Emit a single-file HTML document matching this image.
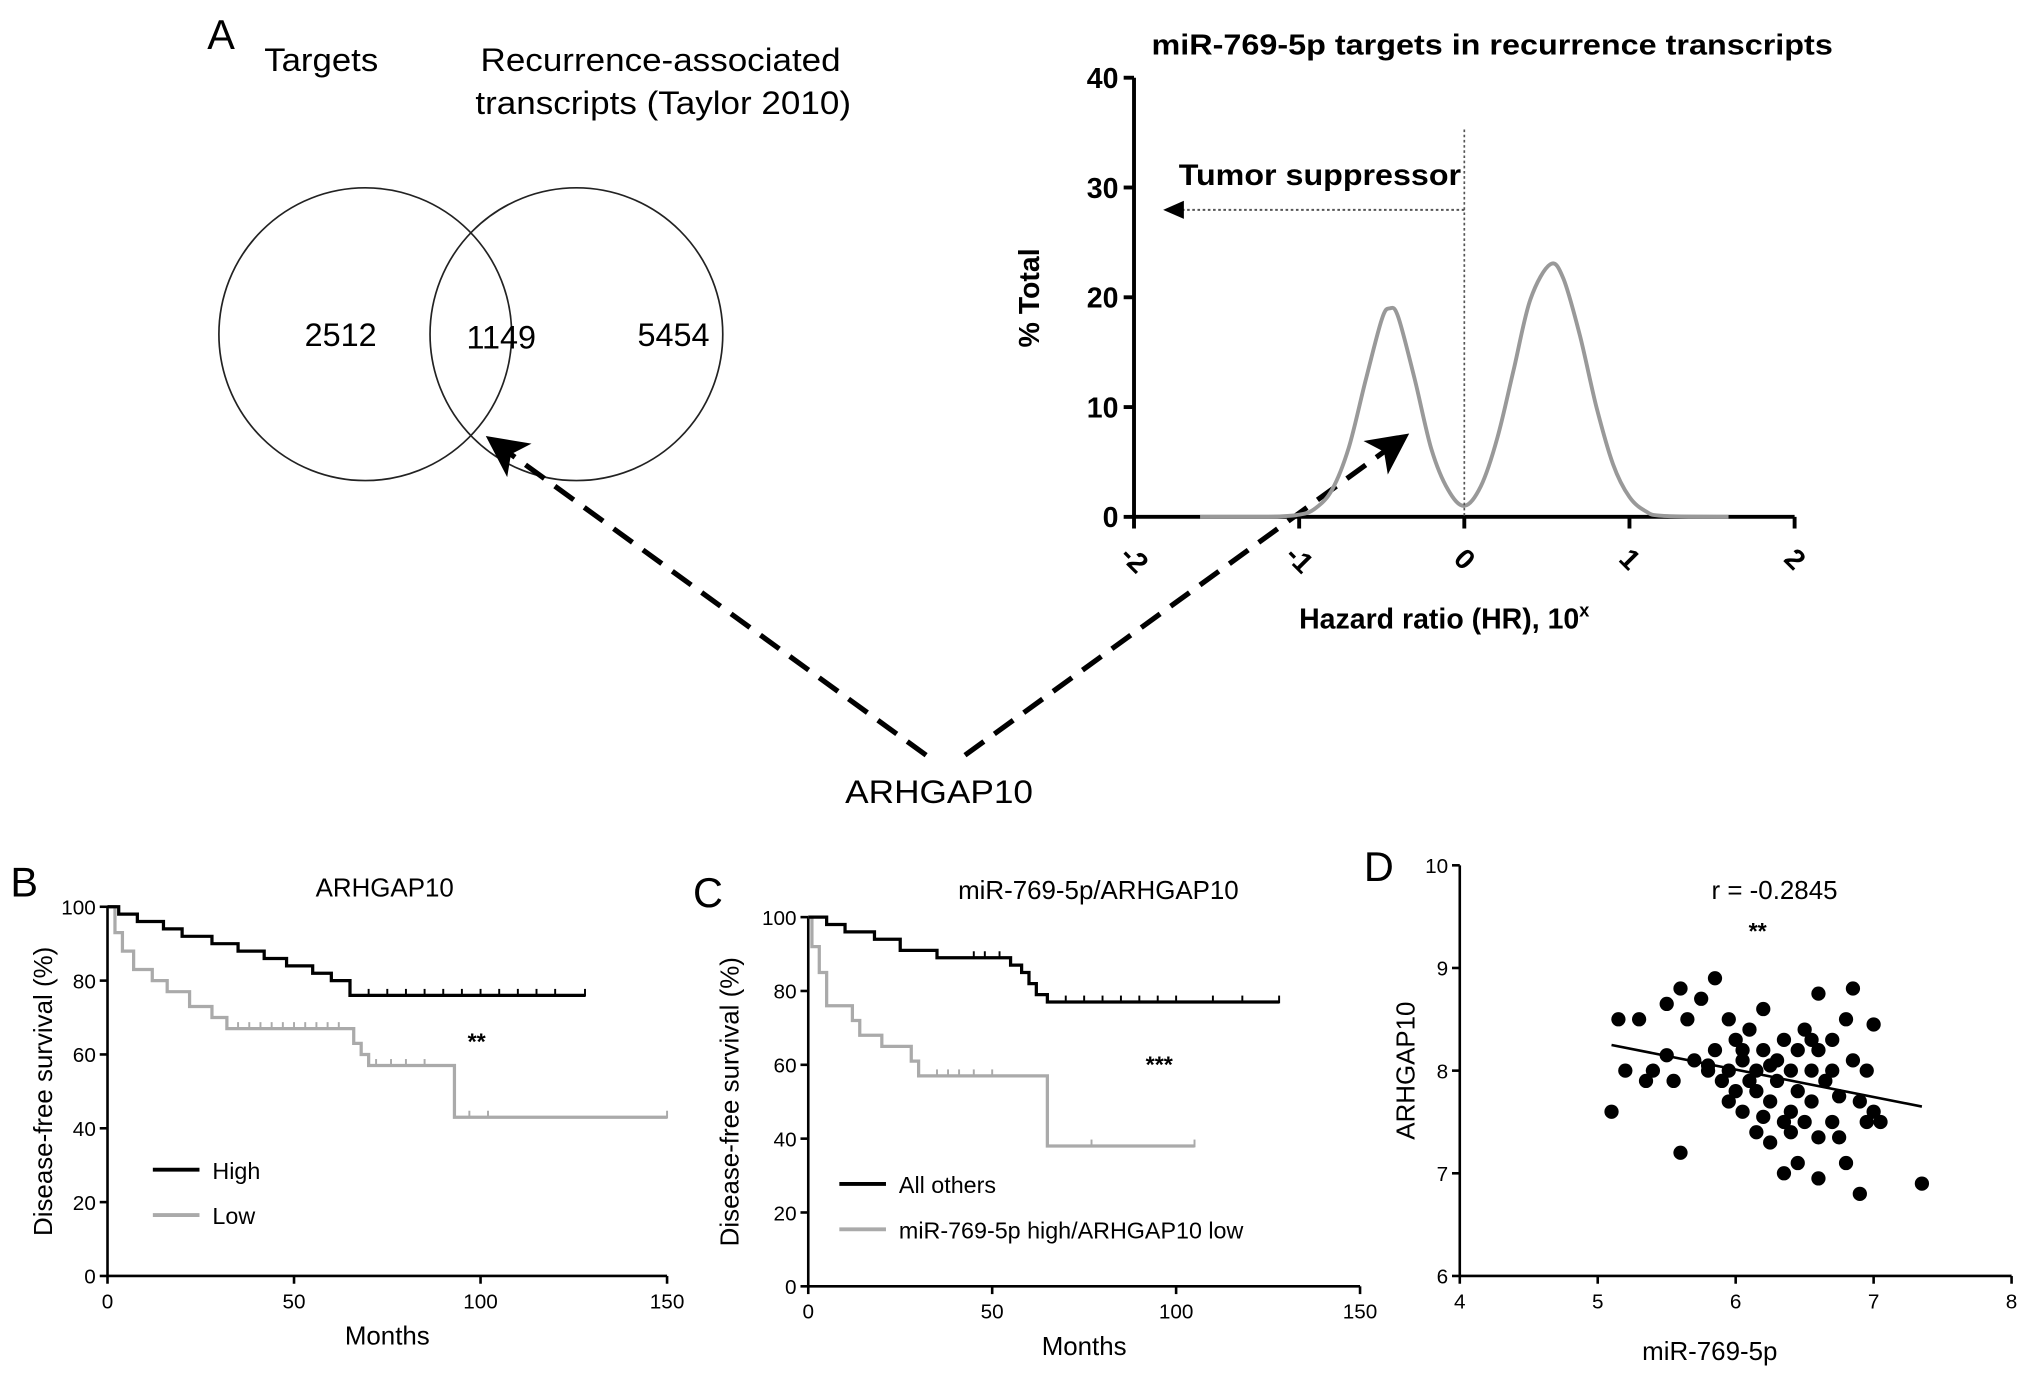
<!DOCTYPE html>
<html><head><meta charset="utf-8"><style>
html,body{margin:0;padding:0;background:#fff;}
svg{display:block;}
text{font-family:"Liberation Sans",Arial,sans-serif;}
</style></head><body>
<svg id="fig" width="2031" height="1377" viewBox="0 0 1568 1063" preserveAspectRatio="none" xmlns="http://www.w3.org/2000/svg">
<defs>
<marker id="ah" markerWidth="8" markerHeight="8" refX="4" refY="4" orient="auto" markerUnits="strokeWidth"><path d="M0,0 L8,4 L0,8 L2,4 z" fill="#000"/></marker>
</defs>
<text x="160" y="38" font-size="32">A</text>
<text x="248" y="55" font-size="25" text-anchor="middle" textLength="88" lengthAdjust="spacingAndGlyphs">Targets</text>
<text x="510" y="55" font-size="25" text-anchor="middle" textLength="278" lengthAdjust="spacingAndGlyphs">Recurrence-associated</text>
<text x="512" y="88" font-size="25" text-anchor="middle" textLength="290" lengthAdjust="spacingAndGlyphs">transcripts (Taylor 2010)</text>
<circle cx="282" cy="258" r="113" fill="none" stroke="#222" stroke-width="1.3"/>
<circle cx="445" cy="258" r="113" fill="none" stroke="#222" stroke-width="1.3"/>
<text x="263" y="267" font-size="25" text-anchor="middle">2512</text>
<text x="387" y="269" font-size="25" text-anchor="middle">1149</text>
<text x="520" y="267" font-size="25" text-anchor="middle">5454</text>
<line x1="715" y1="583" x2="388" y2="346" stroke="#000" stroke-width="4" stroke-dasharray="18,10" marker-end="url(#ah)"/>
<line x1="745" y1="583" x2="1075" y2="344" stroke="#000" stroke-width="4" stroke-dasharray="18,10" marker-end="url(#ah)"/>
<text x="725" y="620" font-size="25" text-anchor="middle" textLength="145" lengthAdjust="spacingAndGlyphs">ARHGAP10</text>
<g id="hz"></g>
<g id="pb"></g>
<g id="pc"></g>
<g id="pd"></g>
</svg>
<script>
// ---- Hazard density data ----
const hzX = [-1.6,-1.2,-1.0,-0.9,-0.8,-0.7,-0.6,-0.5,-0.45,-0.4,-0.3,-0.2,-0.1,0,0.1,0.2,0.3,0.4,0.52,0.6,0.7,0.8,0.9,1.0,1.1,1.2,1.6];
const hzY = [0,0,0.2,0.8,2.5,6.3,12.3,18,19,18.2,12.5,6.2,2.5,1.0,2.8,7.2,13.5,19.8,23,21.7,16.5,10,4.8,1.8,0.5,0.1,0];
const hzXTicks = [-2,-1,0,1,2];
const hzYTicks = [0,10,20,30,40];
// ---- Panel B ----
const bHighT = [0,3,8,15,20,28,35,42,48,55,60,65,128];
const bHighS = [100,98,96,94,92,90,88,86,84,82,80,76,76];
const bLowT = [0,2,4,7,12,16,22,28,32,66,68,70,93,150];
const bLowS = [100,93,88,83,80,77,73,70,67,63,60,57,43,43];
const bHighCens = [70,75,80,85,90,95,100,105,110,115,120,128];
const bLowCens = [35,38,41,44,47,50,53,56,59,62,72,76,80,85,97,102,150];
// ---- Panel C ----
const cOthT = [0,5,10,18,25,35,55,58,60,62,65,128];
const cOthS = [100,98,96,94,91,89,87,85,82,79,77,77];
const cLowT = [0,1,3,5,12,14,20,28,30,65,105];
const cLowS = [100,92,85,76,72,68,65,61,57,38,38];
const cOthCens = [45,48,52,70,75,80,85,90,95,100,110,118,128];
const cLowCens = [35,38,41,45,50,77,105];
const kmXTicks = [0,50,100,150];
const kmYTicks = [0,20,40,60,80,100];
// ---- Panel D ----
const dX = [5.1,5.15,5.2,5.3,5.35,5.4,5.5,5.5,5.55,5.6,5.6,5.65,5.7,5.75,5.8,5.85,5.85,5.9,5.95,5.95,6.0,6.0,6.05,6.05,6.1,6.1,6.15,6.15,6.2,6.2,6.25,6.25,6.3,6.3,6.35,6.35,6.35,6.4,6.4,6.45,6.45,6.5,6.5,6.55,6.55,6.6,6.6,6.6,6.6,6.65,6.7,6.7,6.75,6.75,6.8,6.8,6.85,6.85,6.9,6.9,6.95,6.95,7.0,7.0,7.05,7.35,6.15,6.25,5.95,6.05,6.4,6.55,6.7,5.8,6.2,6.45];
const dY = [7.6,8.5,8.0,8.5,7.9,8.0,8.15,8.65,7.9,8.8,7.2,8.5,8.1,8.7,8.05,8.9,8.2,7.9,8.0,8.5,7.8,8.3,8.1,7.6,8.4,7.9,8.0,7.4,8.6,8.2,7.7,7.3,8.1,7.9,7.5,8.3,7.0,8.0,7.6,8.2,7.8,7.5,8.4,8.0,7.7,8.75,8.2,7.35,6.95,7.9,7.5,8.0,7.35,7.75,8.5,7.1,8.8,8.1,7.7,6.8,8.0,7.5,8.45,7.6,7.5,6.9,7.8,8.05,7.7,8.2,7.4,8.3,8.3,8.0,7.55,7.1];
const dFitX = [5.1,7.35];
const dFitY = [8.25,7.65];
const dXTicks = [4,5,6,7,8];
const dYTicks = [6,7,8,9,10];

const NS="http://www.w3.org/2000/svg";
function mk(parent,tag,attrs,txt){const e=document.createElementNS(NS,tag);for(const k in attrs)e.setAttribute(k,attrs[k]);if(txt!==undefined)e.textContent=txt;parent.appendChild(e);return e;}

(function(){
const g=document.getElementById('hz');
const X=v=>1003+(v+1)*127.5, Y=v=>399-v*8.475;
let t=mk(g,'text',{x:1152,y:42,'font-size':22,'font-weight':'bold','text-anchor':'middle',textLength:526,lengthAdjust:'spacingAndGlyphs'},'miR-769-5p targets in recurrence transcripts');

const P=hzX.map((x,i)=>[X(x),Y(hzY[i])]);
let d=`M${P[0][0].toFixed(1)},${P[0][1].toFixed(1)}`;
for(let i=0;i<P.length-1;i++){
 const p0=P[Math.max(0,i-1)],p1=P[i],p2=P[i+1],p3=P[Math.min(P.length-1,i+2)];
 let c1y=p1[1]+(p2[1]-p0[1])/6, c2y=p2[1]-(p3[1]-p1[1])/6;
 c1y=Math.min(c1y,Y(0)); c2y=Math.min(c2y,Y(0));
 d+=`C${(p1[0]+(p2[0]-p0[0])/6).toFixed(1)},${c1y.toFixed(1)} ${(p2[0]-(p3[0]-p1[0])/6).toFixed(1)},${c2y.toFixed(1)} ${p2[0].toFixed(1)},${p2[1].toFixed(1)}`;
}
let ax=mk(g,'path',{d:`M${X(-2)},${Y(40)}V${Y(0)}H${X(2)}`,fill:'none',stroke:'#000','stroke-width':3});

let c=mk(g,'path',{d:d,fill:'none',stroke:'#999','stroke-width':3,'stroke-linejoin':'round'});

hzYTicks.forEach(v=>{
 let l=mk(g,'line',{x1:X(-2)-8,x2:X(-2),y1:Y(v),y2:Y(v),stroke:'#000','stroke-width':3});
 
 let tt=mk(g,'text',{x:X(-2)-12,y:Y(v)+8,'font-size':22,'font-weight':'bold','text-anchor':'end'},String(v));
 
});
hzXTicks.forEach(v=>{
 let l=mk(g,'line',{x1:X(v),x2:X(v),y1:Y(0),y2:Y(0)+9,stroke:'#000','stroke-width':3});
 
 let tt=mk(g,'text',{x:X(v),y:Y(0)+40,'font-size':22,'font-weight':'bold','text-anchor':'middle',transform:`rotate(45 ${X(v)} ${Y(0)+33})`},String(v));
 
});
let yl=mk(g,'text',{x:0,y:0,'font-size':22,'font-weight':'bold','text-anchor':'middle',transform:`translate(802,230) rotate(-90)`},'% Total');

let xl=mk(g,'text',{x:1115,y:485,'font-size':22,'font-weight':'bold','text-anchor':'middle'});

xl.textContent='Hazard ratio (HR), 10';mk(xl,'tspan',{dy:-9,'font-size':14},'x');
let vl=mk(g,'line',{x1:X(0),x2:X(0),y1:100,y2:Y(0),stroke:'#555','stroke-width':1.3,'stroke-dasharray':'2,2'});

let hl=mk(g,'line',{x1:X(0),x2:910,y1:162,y2:162,stroke:'#555','stroke-width':1.5,'stroke-dasharray':'2,2'});

let ah=mk(g,'path',{d:'M898,162 L914,155 L914,169 z',fill:'#000'});

let ts=mk(g,'text',{x:1019,y:143,'font-size':23,'font-weight':'bold','text-anchor':'middle',textLength:218,lengthAdjust:'spacingAndGlyphs'},'Tumor suppressor');

})();

function km(gid,o){
const g=document.getElementById(gid);
const X=v=>o.x0+v*o.sx, Y=v=>o.y0-v*o.sy;
let lab=mk(g,'text',{x:o.lx,y:o.ly,'font-size':32},o.letter);

let ti=mk(g,'text',{x:o.tx,y:o.ty,'font-size':20,'text-anchor':'middle'},o.title);

let ax=mk(g,'path',{d:`M${X(0)},${Y(100)}V${Y(0)}H${X(150)}`,fill:'none',stroke:'#000','stroke-width':2});

kmYTicks.forEach(v=>{
 let l=mk(g,'line',{x1:X(0)-6,x2:X(0),y1:Y(v),y2:Y(v),stroke:'#000','stroke-width':2});
 
 let t=mk(g,'text',{x:X(0)-9,y:Y(v)+6,'font-size':16,'text-anchor':'end'},String(v));
 
});
kmXTicks.forEach(v=>{
 let l=mk(g,'line',{x1:X(v),x2:X(v),y1:Y(0),y2:Y(0)+6,stroke:'#000','stroke-width':2});
 
 let t=mk(g,'text',{x:X(v),y:Y(0)+25,'font-size':16,'text-anchor':'middle'},String(v));
 
});
let yt=mk(g,'text',{x:0,y:0,'font-size':20,'text-anchor':'middle',transform:`translate(${o.ytx},${Y(50)}) rotate(-90)`},'Disease-free survival (%)');

let xt=mk(g,'text',{x:X(75),y:Y(0)+53,'font-size':20,'text-anchor':'middle'},'Months');

function step(T,S,col,cens,name){
 let d=`M${X(T[0])},${Y(S[0])}`;
 for(let i=1;i<T.length;i++){d+=`H${X(T[i])}V${Y(S[i])}`;}
 let p=mk(g,'path',{d:d,fill:'none',stroke:col,'stroke-width':2.5});
 
 cens.forEach(c=>{let s=S[0];for(let i=0;i<T.length;i++){if(T[i]<=c)s=S[i];}
  let l=mk(g,'line',{x1:X(c),x2:X(c),y1:Y(s)-5,y2:Y(s)+1,stroke:col,'stroke-width':1.5});
  });
}
step(o.t2,o.s2,'#aaa',o.c2,o.n2);
step(o.t1,o.s1,'#000',o.c1,o.n1);
[[o.l1,'#000',0],[o.l2,'#aaa',1]].forEach(([txt,col,i])=>{
 const yy=o.legy+i*35;
 let l=mk(g,'line',{x1:o.legx,x2:o.legx+36,y1:yy,y2:yy,stroke:col,'stroke-width':3});
 
 let t=mk(g,'text',{x:o.legx+46,y:yy+7,'font-size':18},txt);
 
});
let st=mk(g,'text',{x:o.sigx,y:o.sigy,'font-size':18,'font-weight':'bold','text-anchor':'middle'},o.sig);

}
km('pb',{x0:83,y0:985,sx:2.88,sy:2.85,letter:'B',lx:8,ly:692,title:'ARHGAP10',tx:297,ty:692,ytx:40,
 t1:bHighT,s1:bHighS,c1:bHighCens,n1:'high-line',t2:bLowT,s2:bLowS,c2:bLowCens,n2:'low-line',
 l1:'High',l2:'Low',legx:118,legy:903,sig:'**',sigx:368,sigy:810});
km('pc',{x0:624,y0:993,sx:2.84,sy:2.85,letter:'C',lx:535,ly:700,title:'miR-769-5p/ARHGAP10',tx:848,ty:694,ytx:570,
 t1:cOthT,s1:cOthS,c1:cOthCens,n1:'all-others-line',t2:cLowT,s2:cLowS,c2:cLowCens,n2:'mir-high-arhgap-low-line',
 l1:'All others',l2:'miR-769-5p high/ARHGAP10 low',legx:648,legy:914,sig:'***',sigx:895,sigy:828});

(function(){
const g=document.getElementById('pd');
const X=v=>1127+(v-4)*106.5, Y=v=>985-(v-6)*79.25;
let lab=mk(g,'text',{x:1053,y:680,'font-size':32},'D');

let r=mk(g,'text',{x:1370,y:694,'font-size':20,'text-anchor':'middle'},'r = -0.2845');

let s=mk(g,'text',{x:1357,y:725,'font-size':18,'font-weight':'bold','text-anchor':'middle'},'**');

let ax=mk(g,'path',{d:`M${X(4)},${Y(10)}V${Y(6)}H${X(8)}`,fill:'none',stroke:'#000','stroke-width':2});

dYTicks.forEach(v=>{
 let l=mk(g,'line',{x1:X(4)-6,x2:X(4),y1:Y(v),y2:Y(v),stroke:'#000','stroke-width':2});
 
 let t=mk(g,'text',{x:X(4)-9,y:Y(v)+6,'font-size':16,'text-anchor':'end'},String(v));
 
});
dXTicks.forEach(v=>{
 let l=mk(g,'line',{x1:X(v),x2:X(v),y1:Y(6),y2:Y(6)+6,stroke:'#000','stroke-width':2});
 
 let t=mk(g,'text',{x:X(v),y:Y(6)+25,'font-size':16,'text-anchor':'middle'},String(v));
 
});
let yt=mk(g,'text',{x:0,y:0,'font-size':20,'text-anchor':'middle',transform:`translate(1092,${Y(8)}) rotate(-90)`},'ARHGAP10');

let xt=mk(g,'text',{x:1320,y:1050,'font-size':20,'text-anchor':'middle'},'miR-769-5p');

dX.forEach((x,i)=>{
 let c=mk(g,'circle',{cx:X(x),cy:Y(dY[i]),r:5.5,fill:'#000'});
 
});
let fl=mk(g,'line',{x1:X(dFitX[0]),y1:Y(dFitY[0]),x2:X(dFitX[1]),y2:Y(dFitY[1]),stroke:'#000','stroke-width':2});

})();
</script>
</body></html>
